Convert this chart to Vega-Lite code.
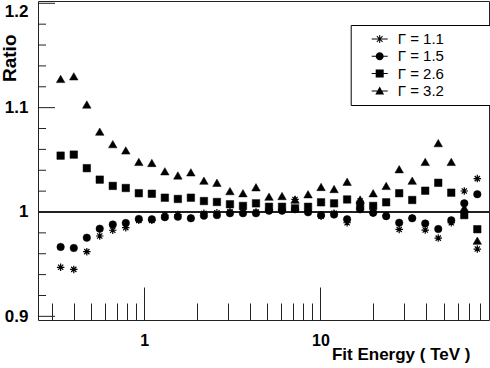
{
  "$schema": "https://vega.github.io/schema/vega-lite/v6.json",
  "width": 451,
  "height": 319,
  "autosize": {"type": "none"},
  "padding": {"left": 38, "top": 1, "right": 1, "bottom": 48},
  "background": "white",
  "config": {
    "view": {"stroke": "#222", "strokeWidth": 1},
    "font": "Liberation Sans",
    "axis": {"domain": false, "grid": false, "ticks": true, "tickColor": "#222", "tickOpacity": 1, "tickWidth": 1, "labelColor": "black", "titleColor": "black", "labelFont": "Liberation Sans", "titleFont": "Liberation Sans", "labelFontWeight": "bold", "titleFontWeight": "bold", "labelOverlap": false, "labelFlush": false}
  },
  "data": {"values": [
    {"e":0.336,"g":"Γ = 1.1","r":0.947},{"e":0.399,"g":"Γ = 1.1","r":0.945},{"e":0.473,"g":"Γ = 1.1","r":0.962},{"e":0.560,"g":"Γ = 1.1","r":0.977},{"e":0.664,"g":"Γ = 1.1","r":0.9825},{"e":0.787,"g":"Γ = 1.1","r":0.985},{"e":0.933,"g":"Γ = 1.1","r":0.992},{"e":1.106,"g":"Γ = 1.1","r":0.992},{"e":1.311,"g":"Γ = 1.1","r":0.997},{"e":1.554,"g":"Γ = 1.1","r":0.9975},{"e":1.842,"g":"Γ = 1.1","r":0.994},{"e":2.184,"g":"Γ = 1.1","r":0.9987},{"e":2.589,"g":"Γ = 1.1","r":0.9993},{"e":3.069,"g":"Γ = 1.1","r":1.0003},{"e":3.638,"g":"Γ = 1.1","r":1.0003},{"e":4.312,"g":"Γ = 1.1","r":1.0},{"e":5.111,"g":"Γ = 1.1","r":1.002},{"e":6.059,"g":"Γ = 1.1","r":1.002},{"e":7.182,"g":"Γ = 1.1","r":1.012},{"e":8.513,"g":"Γ = 1.1","r":1.001},{"e":10.09,"g":"Γ = 1.1","r":0.996},{"e":11.96,"g":"Γ = 1.1","r":0.9988},{"e":14.18,"g":"Γ = 1.1","r":0.9897},{"e":16.81,"g":"Γ = 1.1","r":1.0105},{"e":19.93,"g":"Γ = 1.1","r":0.9988},{"e":23.62,"g":"Γ = 1.1","r":0.997},{"e":28.0,"g":"Γ = 1.1","r":0.9833},{"e":33.19,"g":"Γ = 1.1","r":0.994},{"e":39.34,"g":"Γ = 1.1","r":0.9827},{"e":46.64,"g":"Γ = 1.1","r":0.975},{"e":55.28,"g":"Γ = 1.1","r":0.9897},{"e":65.53,"g":"Γ = 1.1","r":1.0201},{"e":77.68,"g":"Γ = 1.1","r":1.032},{"e":77.68,"g":"Γ = 1.1","r":0.9645},
    {"e":0.336,"g":"Γ = 1.5","r":0.9665},{"e":0.399,"g":"Γ = 1.5","r":0.9655},{"e":0.473,"g":"Γ = 1.5","r":0.9754},{"e":0.560,"g":"Γ = 1.5","r":0.984},{"e":0.664,"g":"Γ = 1.5","r":0.988},{"e":0.787,"g":"Γ = 1.5","r":0.9895},{"e":0.933,"g":"Γ = 1.5","r":0.9934},{"e":1.106,"g":"Γ = 1.5","r":0.993},{"e":1.311,"g":"Γ = 1.5","r":0.995},{"e":1.554,"g":"Γ = 1.5","r":0.9955},{"e":1.842,"g":"Γ = 1.5","r":0.994},{"e":2.184,"g":"Γ = 1.5","r":0.9965},{"e":2.589,"g":"Γ = 1.5","r":0.997},{"e":3.069,"g":"Γ = 1.5","r":0.9988},{"e":3.638,"g":"Γ = 1.5","r":0.9988},{"e":4.312,"g":"Γ = 1.5","r":0.9988},{"e":5.111,"g":"Γ = 1.5","r":1.0013},{"e":6.059,"g":"Γ = 1.5","r":1.0013},{"e":7.182,"g":"Γ = 1.5","r":1.0026},{"e":8.513,"g":"Γ = 1.5","r":0.9997},{"e":10.09,"g":"Γ = 1.5","r":0.997},{"e":11.96,"g":"Γ = 1.5","r":0.9975},{"e":14.18,"g":"Γ = 1.5","r":0.993},{"e":16.81,"g":"Γ = 1.5","r":1.0026},{"e":19.93,"g":"Γ = 1.5","r":0.9993},{"e":23.62,"g":"Γ = 1.5","r":0.996},{"e":28.0,"g":"Γ = 1.5","r":0.9897},{"e":33.19,"g":"Γ = 1.5","r":0.994},{"e":39.34,"g":"Γ = 1.5","r":0.989},{"e":46.64,"g":"Γ = 1.5","r":0.9837},{"e":55.28,"g":"Γ = 1.5","r":0.992},{"e":65.53,"g":"Γ = 1.5","r":1.0083},{"e":77.68,"g":"Γ = 1.5","r":1.017},
    {"e":0.336,"g":"Γ = 2.6","r":1.054},{"e":0.399,"g":"Γ = 2.6","r":1.055},{"e":0.473,"g":"Γ = 2.6","r":1.042},{"e":0.560,"g":"Γ = 2.6","r":1.031},{"e":0.664,"g":"Γ = 2.6","r":1.025},{"e":0.787,"g":"Γ = 2.6","r":1.023},{"e":0.933,"g":"Γ = 2.6","r":1.018},{"e":1.106,"g":"Γ = 2.6","r":1.0175},{"e":1.311,"g":"Γ = 2.6","r":1.0137},{"e":1.554,"g":"Γ = 2.6","r":1.0125},{"e":1.842,"g":"Γ = 2.6","r":1.0137},{"e":2.184,"g":"Γ = 2.6","r":1.0105},{"e":2.589,"g":"Γ = 2.6","r":1.0096},{"e":3.069,"g":"Γ = 2.6","r":1.0074},{"e":3.638,"g":"Γ = 2.6","r":1.0058},{"e":4.312,"g":"Γ = 2.6","r":1.0083},{"e":5.111,"g":"Γ = 2.6","r":1.005},{"e":6.059,"g":"Γ = 2.6","r":1.005},{"e":7.182,"g":"Γ = 2.6","r":1.0035},{"e":8.513,"g":"Γ = 2.6","r":1.005},{"e":10.09,"g":"Γ = 2.6","r":1.0093},{"e":11.96,"g":"Γ = 2.6","r":1.0083},{"e":14.18,"g":"Γ = 2.6","r":1.012},{"e":16.81,"g":"Γ = 2.6","r":1.0058},{"e":19.93,"g":"Γ = 2.6","r":1.0058},{"e":23.62,"g":"Γ = 2.6","r":1.0093},{"e":28.0,"g":"Γ = 2.6","r":1.018},{"e":33.19,"g":"Γ = 2.6","r":1.0115},{"e":39.34,"g":"Γ = 2.6","r":1.0204},{"e":46.64,"g":"Γ = 2.6","r":1.028},{"e":55.28,"g":"Γ = 2.6","r":1.0185},{"e":65.53,"g":"Γ = 2.6","r":0.997},{"e":77.68,"g":"Γ = 2.6","r":0.9835},
    {"e":0.336,"g":"Γ = 3.2","r":1.1275},{"e":0.399,"g":"Γ = 3.2","r":1.13},{"e":0.473,"g":"Γ = 3.2","r":1.103},{"e":0.560,"g":"Γ = 3.2","r":1.077},{"e":0.664,"g":"Γ = 3.2","r":1.065},{"e":0.787,"g":"Γ = 3.2","r":1.059},{"e":0.933,"g":"Γ = 3.2","r":1.048},{"e":1.106,"g":"Γ = 3.2","r":1.047},{"e":1.311,"g":"Γ = 3.2","r":1.039},{"e":1.554,"g":"Γ = 3.2","r":1.035},{"e":1.842,"g":"Γ = 3.2","r":1.038},{"e":2.184,"g":"Γ = 3.2","r":1.03},{"e":2.589,"g":"Γ = 3.2","r":1.028},{"e":3.069,"g":"Γ = 3.2","r":1.02},{"e":3.638,"g":"Γ = 3.2","r":1.018},{"e":4.312,"g":"Γ = 3.2","r":1.0237},{"e":5.111,"g":"Γ = 3.2","r":1.0147},{"e":6.059,"g":"Γ = 3.2","r":1.0153},{"e":7.182,"g":"Γ = 3.2","r":1.0118},{"e":8.513,"g":"Γ = 3.2","r":1.017},{"e":10.09,"g":"Γ = 3.2","r":1.024},{"e":11.96,"g":"Γ = 3.2","r":1.022},{"e":14.18,"g":"Γ = 3.2","r":1.029},{"e":16.81,"g":"Γ = 3.2","r":1.012},{"e":19.93,"g":"Γ = 3.2","r":1.018},{"e":23.62,"g":"Γ = 3.2","r":1.025},{"e":28.0,"g":"Γ = 3.2","r":1.041},{"e":33.19,"g":"Γ = 3.2","r":1.03},{"e":39.34,"g":"Γ = 3.2","r":1.048},{"e":46.64,"g":"Γ = 3.2","r":1.066},{"e":55.28,"g":"Γ = 3.2","r":1.048},{"e":65.53,"g":"Γ = 3.2","r":1.004},{"e":77.68,"g":"Γ = 3.2","r":0.9725}
  ]},
  "resolve": {"axis": {"x": "independent", "y": "independent"}, "scale": {"shape": "independent"}, "legend": {"shape": "independent"}},
  "layer": [
    {
      "mark": {"type": "point", "filled": true, "opacity": 0, "color": "black"},
      "encoding": {
        "x": {
          "field": "e", "type": "quantitative",
          "scale": {"type": "log", "domain": [0.25, 90.5]},
          "axis": {"orient": "bottom", "values": [0.3,0.4,0.5,0.6,0.7,0.8,0.9,2,3,4,5,6,7,8,9,20,30,40,50,60,70,80], "labels": false, "tickSize": -17, "title": null}
        },
        "y": {
          "field": "r", "type": "quantitative",
          "scale": {"domain": [0.8965, 1.2022], "zero": false, "nice": false},
          "axis": null
        },
        "shape": {
          "field": "g", "type": "nominal",
          "scale": {"domain": ["Γ = 1.1","Γ = 1.5","Γ = 2.6","Γ = 3.2"], "range": [
            "M-1,-0.0625L1,-0.0625L1,0.0625L-1,0.0625ZM-0.0625,-0.5L0.0625,-0.5L0.0625,0.5L-0.0625,0.5ZM-0.31,-0.40L0.40,0.31L0.31,0.40L-0.40,-0.31ZM-0.40,0.31L0.31,-0.40L0.40,-0.31L-0.31,0.40Z",
            "M-1,-0.0625L1,-0.0625L1,0.0625L-1,0.0625ZM0.5,0A0.5,0.5 0 1,1 -0.5,0A0.5,0.5 0 1,1 0.5,0Z",
            "M-1,-0.0625L1,-0.0625L1,0.0625L-1,0.0625ZM-0.5,-0.5L0.5,-0.5L0.5,0.5L-0.5,0.5Z",
            "M-1,-0.0625L1,-0.0625L1,0.0625L-1,0.0625ZM0,-0.55L0.55,0.45L-0.55,0.45Z"
          ]},
          "legend": {
            "orient": "none", "legendX": 312.7, "legendY": 24,
            "title": null,
            "padding": 6,
            "strokeColor": "black", "fillColor": "white",
            "labelFont": "Liberation Sans", "labelFontSize": 15, "labelColor": "black",
            "symbolSize": 256, "symbolOffset": 15, "labelOffset": 10, "rowPadding": 1.3,
            "symbolOpacity": 1, "symbolFillColor": "black", "symbolStrokeColor": "black", "symbolStrokeWidth": 0,
            "labelExpr": "datum.label + '\u2800\u2800\u2800\u2800'"
          }
        }
      }
    },
    {
      "data": {"values": [{"t": 0.9}, {"t": 1.0}, {"t": 1.1}, {"t": 1.2}]},
      "mark": {"type": "point", "shape": "M0,-0.06L2,-0.06L2,0.06L0,0.06Z", "filled": true, "color": "#222", "opacity": 1, "size": 289},
      "encoding": {
        "y": {"field": "t", "type": "quantitative", "scale": {"domain": [0.8965, 1.2022], "zero": false, "nice": false}, "axis": null},
        "x": {"datum": 0.25, "type": "quantitative", "scale": {"type": "log", "domain": [0.25, 90.5]}, "axis": null}
      }
    },
    {
      "data": {"values": [{"t": 0.92}, {"t": 0.94}, {"t": 0.96}, {"t": 0.98}, {"t": 1.02}, {"t": 1.04}, {"t": 1.06}, {"t": 1.08}, {"t": 1.12}, {"t": 1.14}, {"t": 1.16}, {"t": 1.18}]},
      "mark": {"type": "point", "shape": "M0,-0.125L2,-0.125L2,0.125L0,0.125Z", "filled": true, "color": "#222", "opacity": 1, "size": 64},
      "encoding": {
        "y": {"field": "t", "type": "quantitative", "scale": {"domain": [0.8965, 1.2022], "zero": false, "nice": false}, "axis": null},
        "x": {"datum": 0.25, "type": "quantitative", "scale": {"type": "log", "domain": [0.25, 90.5]}, "axis": null}
      }
    },
    {
      "mark": {"type": "rule", "color": "#222", "strokeWidth": 1},
      "encoding": {"y": {"datum": 1, "type": "quantitative", "axis": null}}
    },
    {
      "mark": {"type": "point", "filled": true, "color": "black", "opacity": 1, "stroke": "black"},
      "encoding": {
        "x": {
          "field": "e", "type": "quantitative",
          "scale": {"type": "log", "domain": [0.25, 90.5]},
          "axis": {
            "orient": "bottom",
            "values": [1, 10],
            "format": "~g",
            "tickSize": -33,
            "labelPadding": 58,
            "labelBaseline": "alphabetic",
            "labelFontSize": 16,
            "title": "Fit Energy ( TeV )",
            "titleFontSize": 17,
            "titleX": 432, "titleY": 39,
            "titleAlign": "right", "titleBaseline": "alphabetic"
          }
        },
        "y": {
          "field": "r", "type": "quantitative",
          "scale": {"domain": [0.8965, 1.2022], "zero": false, "nice": false},
          "axis": {
            "orient": "left",
            "values": [0.9, 1, 1.1, 1.2],
            "format": "~g",
            "ticks": false,
            "labelPadding": 10,
            "labelFontSize": 17,
            "labelFlush": 3,
            "title": "Ratio",
            "titleFontSize": 19,
            "titleAngle": -90,
            "titleX": -23, "titleY": 33,
            "titleAlign": "right", "titleBaseline": "alphabetic"
          }
        },
        "shape": {
          "field": "g", "type": "nominal",
          "scale": {"domain": ["Γ = 1.1","Γ = 1.5","Γ = 2.6","Γ = 3.2"], "range": ["M-1,0L1,0M0,-1L0,1M-0.7,-0.7L0.7,0.7M-0.7,0.7L0.7,-0.7", "circle", "square", "triangle-up"]},
          "legend": null
        },
        "size": {"condition": {"test": "datum.g == 'Γ = 3.2'", "value": 72}, "value": 56},
        "strokeWidth": {"condition": {"test": "datum.g == 'Γ = 1.1'", "value": 1.2}, "value": 0.5}
      }
    }
  ]
}
